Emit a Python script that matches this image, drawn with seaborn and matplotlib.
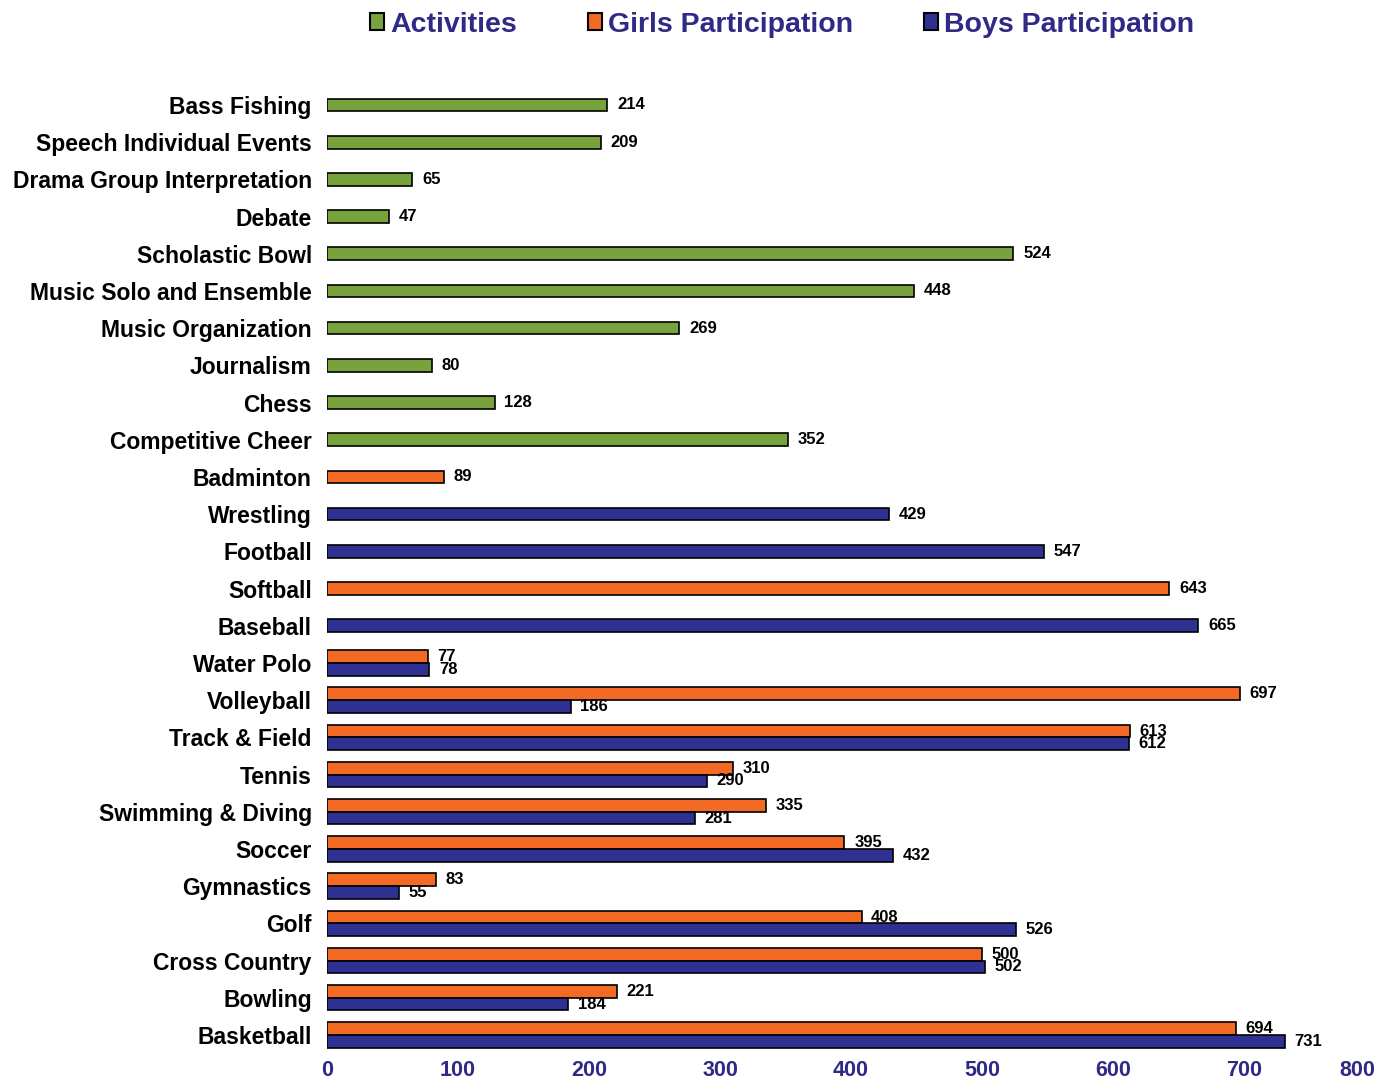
import pandas as pd
import matplotlib.pyplot as plt
import seaborn as sns
from matplotlib.patches import Patch

# data
categories = [
    "Bass Fishing", "Speech Individual Events", "Drama Group Interpretation",
    "Debate", "Scholastic Bowl", "Music Solo and Ensemble", "Music Organization",
    "Journalism", "Chess", "Competitive Cheer", "Badminton", "Wrestling",
    "Football", "Softball", "Baseball", "Water Polo", "Volleyball",
    "Track & Field", "Tennis", "Swimming & Diving", "Soccer", "Gymnastics",
    "Golf", "Cross Country", "Bowling", "Basketball",
]
activities = {
    "Bass Fishing": 214, "Speech Individual Events": 209,
    "Drama Group Interpretation": 65, "Debate": 47, "Scholastic Bowl": 524,
    "Music Solo and Ensemble": 448, "Music Organization": 269,
    "Journalism": 80, "Chess": 128, "Competitive Cheer": 352,
}
girls = {
    "Badminton": 89, "Softball": 643, "Water Polo": 77, "Volleyball": 697,
    "Track & Field": 613, "Tennis": 310, "Swimming & Diving": 335,
    "Soccer": 395, "Gymnastics": 83, "Golf": 408, "Cross Country": 500,
    "Bowling": 221, "Basketball": 694,
}
boys = {
    "Wrestling": 429, "Football": 547, "Baseball": 665, "Water Polo": 78,
    "Volleyball": 186, "Track & Field": 612, "Tennis": 290,
    "Swimming & Diving": 281, "Soccer": 432, "Gymnastics": 55, "Golf": 526,
    "Cross Country": 502, "Bowling": 184, "Basketball": 731,
}
series_names = ["Activities", "Girls Participation", "Boys Participation"]
colors = {"Activities": "#78A23C", "Girls Participation": "#F26A24",
          "Boys Participation": "#2E3192"}
navy_text = "#2F2A85"

rows = []
for name, d in zip(series_names, [activities, girls, boys]):
    for cat, v in d.items():
        rows.append({"Category": cat, "Series": name, "Value": v})
df = pd.DataFrame(rows)

counts = df.groupby("Category")["Series"].transform("count")
single_df = df[counts == 1]
pair_df = df[counts == 2]

sns.set_style("white")
plt.rcParams["font.family"] = ["Liberation Sans", "DejaVu Sans"]
plt.rcParams["font.weight"] = "bold"

fig = plt.figure(figsize=(13.84, 10.82), dpi=100)
ax = fig.add_axes([0.2363, 0.0277, 0.7572, 0.8983])

sns.barplot(data=single_df, y="Category", x="Value", hue="Series",
            order=categories, hue_order=series_names, palette=colors,
            dodge=False, width=0.34, edgecolor="black", linewidth=1.2,
            saturation=1, errorbar=None, legend=False, ax=ax)
sns.barplot(data=pair_df, y="Category", x="Value", hue="Series",
            order=categories, hue_order=series_names[1:], palette=colors,
            dodge=True, width=0.68, edgecolor="black", linewidth=1.2,
            saturation=1, errorbar=None, legend=False, ax=ax)

# value labels
for cont in ax.containers:
    ax.bar_label(cont, fmt="{:.0f}", padding=7, fontsize=12,
                 fontweight="bold", color="black")

ax.set_xlim(0, 800)
ax.set_ylim(25.46, -0.67)
ax.set_xticks(range(0, 801, 100))
ax.set_xlabel("")
ax.set_ylabel("")
sns.despine(ax=ax, left=True, bottom=True)
ax.tick_params(axis="both", length=0)
ax.tick_params(axis="y", pad=11, labelsize=16.5, labelcolor="black")
ax.tick_params(axis="x", pad=6, labelsize=15.5, labelcolor=navy_text)
for lab in ax.get_yticklabels() + ax.get_xticklabels():
    lab.set_fontweight("bold")
ax.get_xticklabels()[-1].set_horizontalalignment("right")

handles = [Patch(facecolor=colors[s], edgecolor="black", linewidth=1.5)
           for s in series_names]
fig.legend(handles, series_names, loc="upper center",
           bbox_to_anchor=(0.565, 1.013), ncol=3, frameon=False,
           prop={"weight": "bold", "size": 20.5}, labelcolor=navy_text,
           handlelength=0.5, handleheight=0.5, handletextpad=0.2,
           columnspacing=2.5)

fig.savefig("out.png", dpi=100)
plt.close(fig)
